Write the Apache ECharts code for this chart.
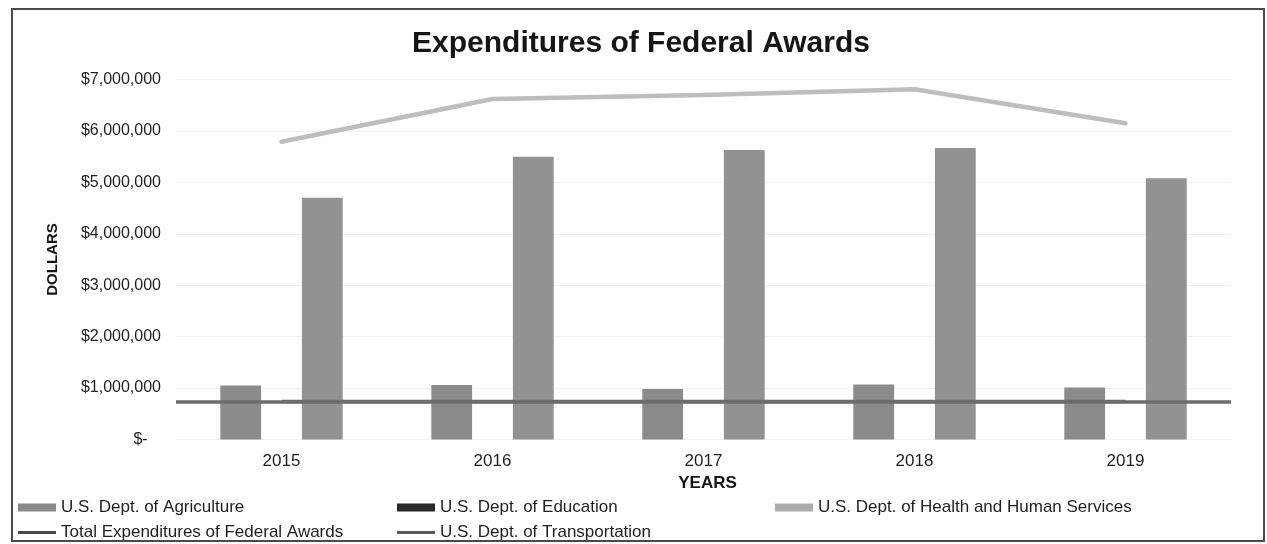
<!DOCTYPE html>
<html>
<head>
<meta charset="utf-8">
<title>Expenditures of Federal Awards</title>
<script src="https://cdn.jsdelivr.net/npm/echarts@6/dist/echarts.min.js"></script>
<style>
  html, body { margin: 0; padding: 0; background: #ffffff; }
  #chart { position: absolute; left: 0; top: 0; width: 1267px; height: 544px; }
  #frame {
    position: absolute; left: 11px; top: 8px; width: 1250px; height: 530px;
    border: 2px solid #4a4a4a; pointer-events: none;
  }
</style>
</head>
<body>
<div id="chart"></div>
<div id="frame"></div>
<script>
// Fiscal years on the category axis
const years = ['2015', '2016', '2017', '2018', '2019'];

// Award expenditures by federal agency (dollars)
const agriculture    = [1050000, 1060000, 980000, 1070000, 1010000];
const education      = [0, 0, 0, 0, 0];
const healthHuman    = [4700000, 5500000, 5630000, 5670000, 5080000];
const totalAwards    = [5790000, 6620000, 6700000, 6810000, 6150000];
const transportation = [740000, 740000, 740000, 740000, 740000];

// Value axis ticks
const yTicks = [0, 1000000, 2000000, 3000000, 4000000, 5000000, 6000000, 7000000];

const FONT = "'Liberation Sans', Arial, Helvetica, sans-serif";

const names = {
  agr: 'U.S. Dept. of Agriculture',
  edu: 'U.S. Dept. of Education',
  hhs: 'U.S. Dept. of Health and Human Services',
  tot: 'Total Expenditures of Federal Awards',
  trn: 'U.S. Dept. of Transportation'
};

function dollars(v) {
  if (v === 0) return '$-   ';
  return '$' + v.toLocaleString('en-US');
}

const chart = echarts.init(document.getElementById('chart'), null, { renderer: 'canvas' });

const legendText = { fontFamily: FONT, fontSize: 17, color: '#1e1e1e' };

// one legend entry per slot so the two legend rows line up in columns
function legendSlot(name, left, top, color, thin) {
  return {
    padding: 0, left: left, top: top,
    itemWidth: 38, itemHeight: thin ? 3 : 8,
    textStyle: legendText, selectedMode: false,
    data: [{ name: name, icon: 'rect', itemStyle: { color: color, opacity: 1 } }]
  };
}

chart.setOption({
  animation: false,
  backgroundColor: '#ffffff',
  title: {
    text: 'Expenditures of Federal Awards',
    left: 636, top: 24, textAlign: 'center',
    textStyle: { fontFamily: FONT, fontSize: 30, fontWeight: 'bold', color: '#151515' }
  },
  legend: [
    legendSlot(names.agr, 18, 499, '#8a8a8a', false),
    legendSlot(names.edu, 397, 499, '#2a2a2a', false),
    legendSlot(names.hhs, 775, 499, '#ababab', false),
    legendSlot(names.tot, 18, 524, '#484848', true),
    legendSlot(names.trn, 397, 524, '#5a5a5a', true)
  ],
  grid: { left: 176, right: 36, top: 79.5, bottom: 104.5, containLabel: false },
  xAxis: {
    type: 'category',
    data: years,
    boundaryGap: true,
    name: 'YEARS',
    nameLocation: 'middle',
    nameGap: 30,
    nameTextStyle: {
      fontFamily: FONT, fontSize: 17, fontWeight: 'bold', color: '#151515',
      verticalAlign: 'top', padding: [0, 0, 0, 8]
    },
    axisLine: { show: false },
    axisTick: { show: false },
    axisLabel: { margin: 13, fontFamily: FONT, fontSize: 17, color: '#1e1e1e' }
  },
  yAxis: {
    type: 'value',
    min: yTicks[0],
    max: yTicks[yTicks.length - 1],
    interval: yTicks[1] - yTicks[0],
    name: 'DOLLARS',
    nameLocation: 'middle',
    nameGap: 116,
    nameRotate: 90,
    nameTextStyle: { fontFamily: FONT, fontSize: 15, fontWeight: 'bold', color: '#151515' },
    axisLine: { show: false },
    axisTick: { show: false },
    splitLine: { show: true, lineStyle: { color: '#f1f1f1', width: 1 } },
    axisLabel: {
      margin: 15, fontFamily: FONT, fontSize: 16, color: '#1e1e1e',
      formatter: dollars
    }
  },
  series: [
    {
      name: names.agr, type: 'bar', data: agriculture,
      barGap: '0%', barCategoryGap: '42%',
      itemStyle: { color: '#8b8b8b' }, z: 2
    },
    {
      name: names.edu, type: 'bar', data: education,
      barGap: '0%', barCategoryGap: '42%',
      itemStyle: { color: '#2a2a2a' }, z: 2
    },
    {
      name: names.hhs, type: 'bar', data: healthHuman,
      barGap: '0%', barCategoryGap: '42%',
      itemStyle: { color: '#929292' }, z: 2
    },
    {
      name: names.tot, type: 'line', data: totalAwards,
      symbol: 'none', smooth: false,
      lineStyle: { color: '#bdbdbd', width: 4.5, cap: 'round', join: 'round' },
      itemStyle: { color: '#bdbdbd' }, z: 4
    },
    {
      name: names.trn, type: 'line', data: transportation,
      symbol: 'none',
      lineStyle: { color: '#6c6c6c', width: 3.5 },
      itemStyle: { color: '#6c6c6c' }, z: 5,
      // the agency level is carried across the full width of the plot
      markLine: {
        silent: true, symbol: 'none', label: { show: false },
        lineStyle: { color: '#6c6c6c', width: 3.5, type: 'solid' },
        data: [{ yAxis: transportation[0] }]
      }
    }
  ]
});
</script>
</body>
</html>
